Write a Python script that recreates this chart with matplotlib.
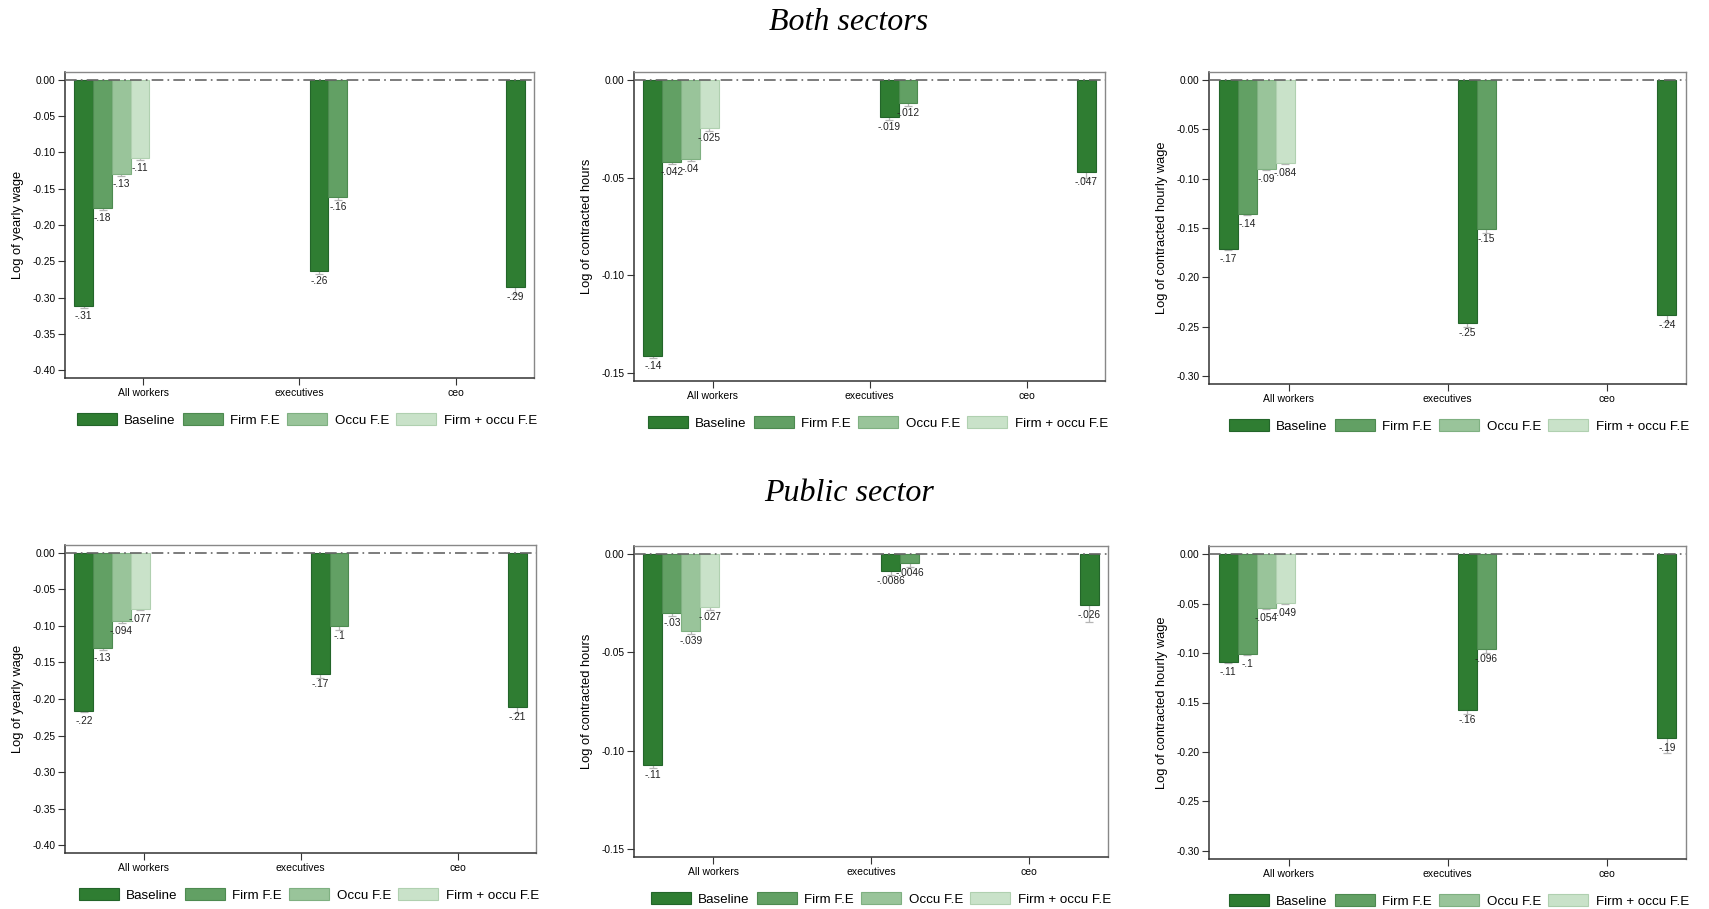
import numpy as np
import matplotlib
matplotlib.use("Agg")
import matplotlib.pyplot as plt
from matplotlib.patches import Patch

plt.rcParams['font.family'] = ['Liberation Sans', 'DejaVu Sans']

# ---------------- data ----------------
categories = ["All workers", "executives", "ceo"]
series = ["Baseline", "Firm F.E", "Occu F.E", "Firm + occu F.E"]
colors = ["#2f7d32", "#62a064", "#99c49a", "#c9e2c9"]
edges = ["#23652a", "#4d8a50", "#7fb081", "#b0d0b0"]

ylabels = ["Log of yearly wage", "Log of contracted hours", "Log of contracted hourly wage"]
ymins = [-0.40, -0.15, -0.30]
yticks_step = [0.05, 0.05, 0.05]

# Both sectors: values per category (lists per series present in that category)
both_yearly_all = [-0.312, -0.177, -0.130, -0.108]
both_yearly_exec = [-0.264, -0.162]
both_yearly_ceo = [-0.286]
both_yearly_err_all = [0.002, 0.002, 0.002, 0.002]
both_yearly_err_exec = [0.004, 0.004]
both_yearly_err_ceo = [0.009]

both_hours_all = [-0.1415, -0.0422, -0.0404, -0.0248]
both_hours_exec = [-0.0188, -0.0116]
both_hours_ceo = [-0.0472]
both_hours_err_all = [0.0008, 0.0010, 0.0010, 0.0012]
both_hours_err_exec = [0.0017, 0.0016]
both_hours_err_ceo = [0.0030]

both_hourly_all = [-0.171, -0.1355, -0.0899, -0.0838]
both_hourly_exec = [-0.246, -0.1507]
both_hourly_ceo = [-0.2378]
both_hourly_err_all = [0.0015, 0.0015, 0.0015, 0.0015]
both_hourly_err_exec = [0.004, 0.004]
both_hourly_err_ceo = [0.007]

# Public sector
pub_yearly_all = [-0.2158, -0.1306, -0.0938, -0.0768]
pub_yearly_exec = [-0.1663, -0.1000]
pub_yearly_ceo = [-0.2112]
pub_yearly_err_all = [0.002, 0.002, 0.002, 0.002]
pub_yearly_err_exec = [0.005, 0.005]
pub_yearly_err_ceo = [0.008]

pub_hours_all = [-0.1072, -0.0299, -0.0390, -0.0272]
pub_hours_exec = [-0.0086, -0.0046]
pub_hours_ceo = [-0.0258]
pub_hours_err_all = [0.0015, 0.0015, 0.0015, 0.0015]
pub_hours_err_exec = [0.002, 0.002]
pub_hours_err_ceo = [0.009]

pub_hourly_all = [-0.1090, -0.1005, -0.0544, -0.0490]
pub_hourly_exec = [-0.1574, -0.0957]
pub_hourly_ceo = [-0.1855]
pub_hourly_err_all = [0.0015, 0.0015, 0.0015, 0.0015]
pub_hourly_err_exec = [0.004, 0.0045]
pub_hourly_err_ceo = [0.016]

panels = [
    (both_yearly_all, both_yearly_exec, both_yearly_ceo,
     both_yearly_err_all, both_yearly_err_exec, both_yearly_err_ceo),
    (both_hours_all, both_hours_exec, both_hours_ceo,
     both_hours_err_all, both_hours_err_exec, both_hours_err_ceo),
    (both_hourly_all, both_hourly_exec, both_hourly_ceo,
     both_hourly_err_all, both_hourly_err_exec, both_hourly_err_ceo),
    (pub_yearly_all, pub_yearly_exec, pub_yearly_ceo,
     pub_yearly_err_all, pub_yearly_err_exec, pub_yearly_err_ceo),
    (pub_hours_all, pub_hours_exec, pub_hours_ceo,
     pub_hours_err_all, pub_hours_err_exec, pub_hours_err_ceo),
    (pub_hourly_all, pub_hourly_exec, pub_hourly_ceo,
     pub_hourly_err_all, pub_hourly_err_exec, pub_hourly_err_ceo),
]

# ---------------- layout ----------------
W, H = 1709, 909
fig = plt.figure(figsize=(W / 100, H / 100), dpi=100)

# axes boxes in pixels: left, right, top, bottom
boxes = [
    (65, 534, 72, 378), (634, 1105, 72, 381), (1209, 1686, 72, 384),
    (65, 536, 545, 853), (634, 1108, 546, 857), (1209, 1686, 546, 859),
]
group_start = [0.62, 2.125, 3.38]
bar_w = 0.12


def fmt_label(v):
    s = f"{v:.2g}"
    if "e" in s:
        s = f"{v:.4f}".rstrip("0")
    return s.replace("0.", ".", 1)


for k, (box, data) in enumerate(zip(boxes, panels)):
    l, r, t, b = box
    ax = fig.add_axes([l / W, 1 - b / H, (r - l) / W, (b - t) / H])
    col = k % 3
    ymin = ymins[col]
    pad = 0.027 * abs(ymin)
    vals = data[:3]
    errs = data[3:]
    for g in range(3):
        for i, (v, e) in enumerate(zip(vals[g], errs[g])):
            x = group_start[g] + bar_w * i
            ax.bar(x, v, width=bar_w, color=colors[i], edgecolor=edges[i],
                   linewidth=0.8, zorder=2)
            ax.errorbar(x, v, yerr=e, fmt='none', ecolor='#b5b5b5',
                        elinewidth=0.9, capsize=3, capthick=0.9, zorder=1.5)
            ax.annotate(fmt_label(v), xy=(x, v), xytext=(0, -10),
                        textcoords='offset pixels', ha='center', va='center',
                        fontsize=7.3, color='#222222', zorder=4)
    ax.axhline(0, color='#666666', lw=1.2, ls=(0, (7, 2.5, 1, 2.5)), zorder=3)
    ax.set_xlim(0.5, 3.5)
    ax.set_ylim(ymin - pad, pad)
    ax.set_xticks([1, 2, 3])
    ax.set_xticklabels(categories, fontsize=7.5)
    yt = np.round(np.arange(0, ymin - 1e-9, -yticks_step[col]), 2)
    ax.set_yticks(yt)
    ax.set_yticklabels([f"{y:.2f}" for y in yt], fontsize=7.3)
    ax.tick_params(axis='both', length=5, width=0.8, color='#333333', pad=2)
    ax.set_ylabel(ylabels[col], fontsize=9.3, labelpad=6)
    for s in ['left', 'bottom']:
        ax.spines[s].set_color('#333333')
        ax.spines[s].set_linewidth(1.1)
    for s in ['top', 'right']:
        ax.spines[s].set_color('#888888')
        ax.spines[s].set_linewidth(1.0)
    handles = [Patch(facecolor=c, edgecolor=e, linewidth=0.8) for c, e in zip(colors, edges)]
    ax.legend(handles, series, loc='center right', ncol=4, frameon=False,
              bbox_to_anchor=(1 + 3 / (r - l), -42 / (b - t)),
              fontsize=9.6, handlelength=3.0, handleheight=1.0,
              handletextpad=0.55, columnspacing=0.55, borderpad=0, borderaxespad=0)

fig.text(849 / W, 1 - 22 / H, "Both sectors", ha='center', va='center',
         fontsize=23, family='Liberation Serif', style='italic')
fig.text(849 / W, 1 - 494 / H, "Public sector", ha='center', va='center',
         fontsize=23, family='Liberation Serif', style='italic')

fig.savefig("out.png", dpi=100)
